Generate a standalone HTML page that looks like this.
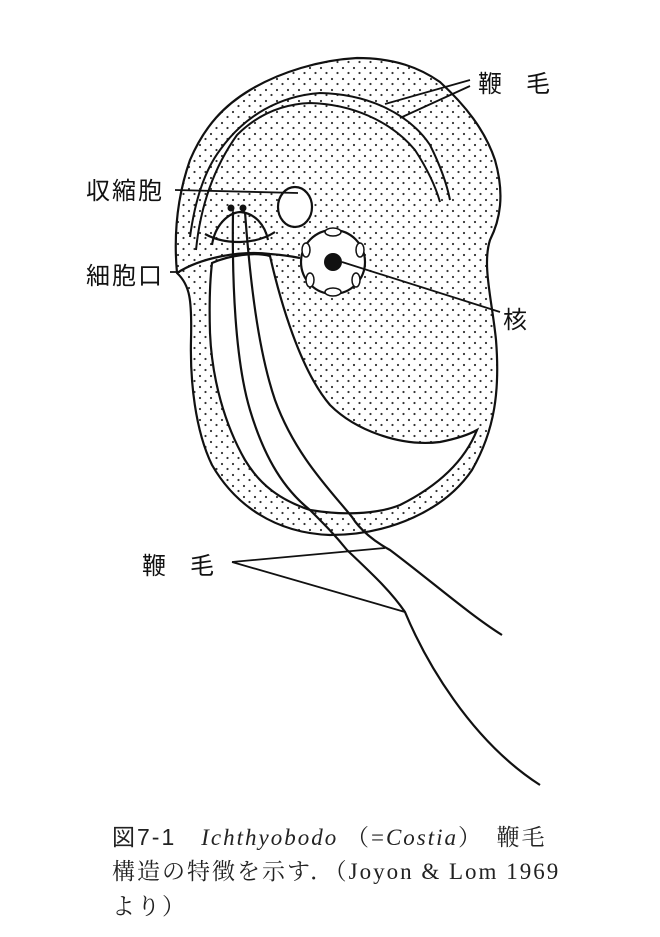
<!DOCTYPE html>
<html><head><meta charset="utf-8"><style>
body{margin:0;background:#fff;width:660px;height:937px;overflow:hidden;font-family:"Liberation Serif","Noto Serif CJK SC",serif;}
.cap{position:absolute;left:112px;font-size:23px;letter-spacing:2px;color:#222;white-space:nowrap;}
</style></head><body>
<svg width="660" height="937" style="position:absolute;left:0;top:0">
<defs>
<pattern id="dots" width="11" height="11" patternUnits="userSpaceOnUse">
<circle cx="2" cy="2" r="1.1" fill="#333"/><circle cx="7.5" cy="7" r="1.1" fill="#333"/>
</pattern>
</defs>
<g stroke="#111" stroke-width="2.2" fill="none">
<path d="M177,273 C174,240 176,200 190,160 C205,125 225,105 250,90 C280,72 320,60 357,58 C395,58 420,68 440,82 C465,105 485,130 495,160 C505,195 500,220 490,240 C482,265 492,300 496,340 C500,390 495,430 472,470 C445,510 390,535 330,535 C275,533 235,505 212,465 C195,430 190,380 191,340 C192,300 190,285 177,273 Z" fill="url(#dots)"/>
<path d="M212,263 C230,255 255,252 270,256 C280,300 300,370 330,405 C355,430 400,447 440,442 C460,438 470,434 477,430 C465,460 440,485 400,505 C375,515 340,515 310,510 C280,500 260,485 245,460 C225,425 212,380 210,333 C209,300 210,280 212,263 Z" fill="#fff"/>
<path d="M177,273 C200,258 240,250 270,254 C285,255 295,257 300,258"/>
<path d="M212,245 C215,225 228,213 240,212 C255,213 265,225 268,240"/>
<path d="M205,234 C225,245 255,245 275,232"/>
<path d="M190,237 C195,200 205,170 220,150 C245,115 280,96 320,93 C370,94 410,115 430,145 C440,165 447,185 450,200" stroke-width="2"/>
<path d="M196,250 C200,210 212,170 237,135 C260,112 285,104 310,103 C350,104 390,120 415,150 C428,170 436,188 440,202" stroke-width="2"/>
<path d="M233,212 C232,280 235,360 250,410 C265,460 285,490 310,510 C325,525 335,535 347,550 C370,572 390,590 405,612 C425,660 470,740 540,785"/>
<path d="M245,212 C250,280 258,350 275,400 C295,455 330,490 352,517 C360,530 375,542 390,550 C430,580 470,615 502,635"/>
<ellipse cx="295" cy="207" rx="17" ry="20" fill="#fff"/>
<circle cx="333" cy="262" r="32" fill="#fff"/>
<path d="M175,190 L298,193 M170,272 L180,272 M342,262 L500,312 M232,562 L385,548 M232,562 L405,612 M470,80 L385,104 M470,86 L400,118" stroke-width="1.8"/>
</g>
<circle cx="333" cy="262" r="9" fill="#111"/>
<circle cx="231" cy="208" r="3.5" fill="#111"/><circle cx="243" cy="208" r="3.5" fill="#111"/>
<g fill="#fff" stroke="#111" stroke-width="1.5">
<ellipse cx="333" cy="232" rx="8" ry="4"/><ellipse cx="333" cy="292" rx="8" ry="4"/>
<ellipse cx="306" cy="250" rx="4" ry="7"/><ellipse cx="360" cy="250" rx="4" ry="7"/>
<ellipse cx="310" cy="280" rx="4" ry="7"/><ellipse cx="356" cy="280" rx="4" ry="7"/>
</g>
<g font-family="Liberation Sans,Noto Sans CJK JP,sans-serif" font-size="24" fill="#111">
<text x="478" y="92">鞭　毛</text>
<text x="86" y="199" letter-spacing="2">収縮胞</text>
<text x="86" y="284" letter-spacing="2">細胞口</text>
<text x="503" y="328">核</text>
<text x="142" y="574">鞭　毛</text>
</g>
</svg>
<div class="cap" style="top:818px"><span style="font-family:'Liberation Sans','Noto Sans CJK JP',sans-serif">図7-1</span>　<i>Ichthyobodo</i> （=<i>Costia</i>）　鞭毛</div>
<div class="cap" style="top:853px">構造の特徴を示す．（Joyon &amp; Lom 1969</div>
<div class="cap" style="top:888px">より）</div>
</body></html>
